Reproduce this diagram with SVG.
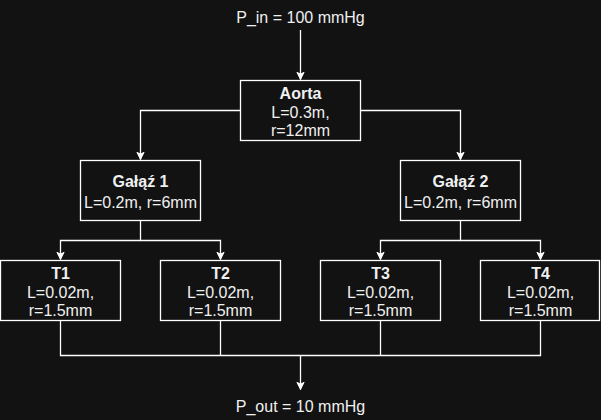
<svg xmlns="http://www.w3.org/2000/svg" width="601" height="420" viewBox="0 0 601 420">
<defs>
<style>
.box{fill:#121212;stroke:#ffffff;stroke-width:1.3}
.edge{fill:none;stroke:#ffffff;stroke-width:1.3}
text{font-family:"Liberation Sans",Arial,sans-serif;font-size:16px;fill:#f0f0f0;text-anchor:middle}
.b{font-weight:bold}
</style>
<marker id="arr" viewBox="0 0 10 10" refX="9" refY="5" markerWidth="9" markerHeight="9" markerUnits="userSpaceOnUse" orient="auto">
<path d="M1,1 L9,5 L1,9 L3,5 Z" fill="#ffffff" stroke="#ffffff" stroke-width="1"/>
</marker>
</defs>
<rect width="601" height="420" fill="#121212"/>
<g id="connectors">
<path class="edge" d="M300.5,30 V79.5" marker-end="url(#arr)"/>
<path class="edge" d="M240.5,110.5 H140.5 V159.5" marker-end="url(#arr)"/>
<path class="edge" d="M360.5,110.5 H460.5 V159.5" marker-end="url(#arr)"/>
<path class="edge" d="M140.5,220.5 V240.5 H60.5 V259.5" marker-end="url(#arr)"/>
<path class="edge" d="M140.5,240.5 H220.5 V259.5" marker-end="url(#arr)"/>
<path class="edge" d="M460.5,220.5 V240.5 H380.5 V259.5" marker-end="url(#arr)"/>
<path class="edge" d="M460.5,240.5 H540.5 V259.5" marker-end="url(#arr)"/>
<path class="edge" d="M60.5,320.5 V355.5 H540.5 V320.5"/>
<path class="edge" d="M220.5,320.5 V355.5"/>
<path class="edge" d="M380.5,320.5 V355.5"/>
<path class="edge" d="M300.5,355.5 V389.5" marker-end="url(#arr)"/>
</g>
<g id="p_in"><text x="300.5" y="22.5">P_in = 100 mmHg</text></g>
<g id="aorta">
<rect class="box" x="240.5" y="80.5" width="120" height="60"/>
<text x="300.5" y="98.5" class="b">Aorta</text>
<text x="300.5" y="117.5">L=0.3m,</text>
<text x="300.5" y="136">r=12mm</text>
</g>
<g id="galaz1">
<rect class="box" x="80.5" y="160.5" width="120" height="60"/>
<text x="140.5" y="186.5" class="b">Gałąź 1</text>
<text x="140.5" y="207.5">L=0.2m, r=6mm</text>
</g>
<g id="galaz2">
<rect class="box" x="400.5" y="160.5" width="120" height="60"/>
<text x="460.5" y="186.5" class="b">Gałąź 2</text>
<text x="460.5" y="207.5">L=0.2m, r=6mm</text>
</g>
<g id="t1">
<rect class="box" x="0.5" y="260.5" width="120" height="60"/>
<text x="60.5" y="278.5" class="b">T1</text>
<text x="60.5" y="297.5">L=0.02m,</text>
<text x="60.5" y="316">r=1.5mm</text>
</g>
<g id="t2">
<rect class="box" x="160.5" y="260.5" width="120" height="60"/>
<text x="220.5" y="278.5" class="b">T2</text>
<text x="220.5" y="297.5">L=0.02m,</text>
<text x="220.5" y="316">r=1.5mm</text>
</g>
<g id="t3">
<rect class="box" x="320.5" y="260.5" width="120" height="60"/>
<text x="380.5" y="278.5" class="b">T3</text>
<text x="380.5" y="297.5">L=0.02m,</text>
<text x="380.5" y="316">r=1.5mm</text>
</g>
<g id="t4">
<rect class="box" x="480.5" y="260.5" width="119" height="60"/>
<text x="540.5" y="278.5" class="b">T4</text>
<text x="540.5" y="297.5">L=0.02m,</text>
<text x="540.5" y="316">r=1.5mm</text>
</g>
<g id="p_out"><text x="300.5" y="412">P_out = 10 mmHg</text></g>
</svg>
